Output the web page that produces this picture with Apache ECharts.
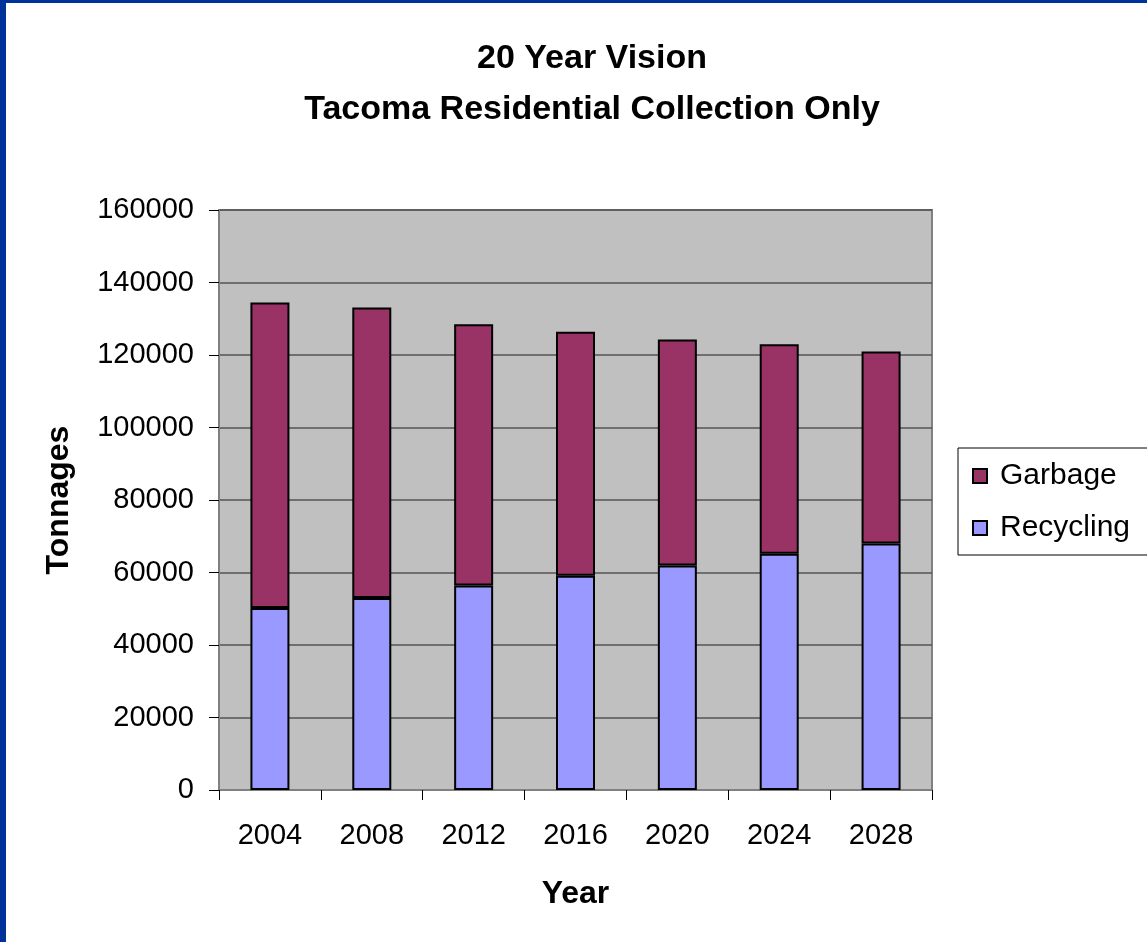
<!DOCTYPE html>
<html>
<head>
<meta charset="utf-8">
<script src="https://cdn.jsdelivr.net/npm/echarts@6/dist/echarts.min.js"></script>
<style>
html,body{margin:0;padding:0;background:#fff;}
#c{width:1147px;height:942px;}
</style>
</head>
<body>
<div id="c"></div>
<script>
var years = ['2004','2008','2012','2016','2020','2024','2028'];
var recycling = [50200, 53000, 56400, 59100, 61900, 65200, 68000];
var garbage = [84300, 80100, 72100, 67300, 62400, 57800, 53000];
var yTicks = [0, 20000, 40000, 60000, 80000, 100000, 120000, 140000, 160000];

var chart = echarts.init(document.getElementById('c'));
var font = '"Liberation Sans", Arial, sans-serif';
chart.setOption({
  animation: false,
  backgroundColor: '#ffffff',
  graphic: [
    {type:'rect', left:0, top:0, shape:{width:6, height:942}, style:{fill:'#003399'}},
    {type:'rect', left:0, top:0, shape:{width:1147, height:3}, style:{fill:'#003399'}}
  ],
  title: {
    text: '20 Year Vision\nTacoma Residential Collection Only',
    left: 587, top: 28, textAlign: 'center',
    textStyle: {fontFamily: font, fontSize: 34, fontWeight: 'bold', color: '#000', lineHeight: 51}
  },
  legend: {
    data: ['Garbage', 'Recycling'],
    orient: 'vertical',
    left: 958, top: 448,
    padding: [13, 30, 12, 14],
    itemWidth: 14, itemHeight: 14, itemGap: 22,
    borderColor: '#000', borderWidth: 1,
    icon: 'rect',
    textStyle: {fontFamily: font, fontSize: 30, color: '#000', padding: [0,0,0,8]}
  },
  grid: {left: 219, right: 215, top: 210, bottom: 152, show: true, backgroundColor: '#C0C0C0', borderColor: '#808080', borderWidth: 2},
  xAxis: {
    type: 'category',
    data: years,
    name: 'Year', nameLocation: 'middle', nameGap: 88,
    nameTextStyle: {fontFamily: font, fontSize: 32, fontWeight: 'bold', color: '#000'},
    axisLine: {lineStyle: {color: '#808080', width: 2}},
    axisTick: {show: true, length: 10, lineStyle: {color: '#000', width: 1}},
    axisLabel: {fontFamily: font, fontSize: 29, color: '#000', margin: 31}
  },
  yAxis: {
    type: 'value', min: 0, max: 160000, interval: 20000,
    name: 'Tonnages', nameLocation: 'middle', nameGap: 144, nameRotate: 90,
    nameTextStyle: {fontFamily: font, fontSize: 32, fontWeight: 'bold', color: '#000'},
    axisLine: {show: true, lineStyle: {color: '#808080', width: 2}},
    axisTick: {show: true, length: 10, lineStyle: {color: '#000', width: 1}},
    axisLabel: {fontFamily: font, fontSize: 29, color: '#000', margin: 25,
      formatter: function (v) { return yTicks.indexOf(v) >= 0 ? String(v) : ''; }},
    splitLine: {show: true, lineStyle: {color: '#555555', width: 1.5}}
  },
  series: [
    {name: 'Recycling', type: 'bar', stack: 't', data: recycling, barWidth: 39,
     itemStyle: {color: '#9999FF', borderColor: '#000', borderWidth: 2}},
    {name: 'Garbage', type: 'bar', stack: 't', data: garbage, barWidth: 39,
     itemStyle: {color: '#993366', borderColor: '#000', borderWidth: 2}}
  ]
});
</script>
</body>
</html>
